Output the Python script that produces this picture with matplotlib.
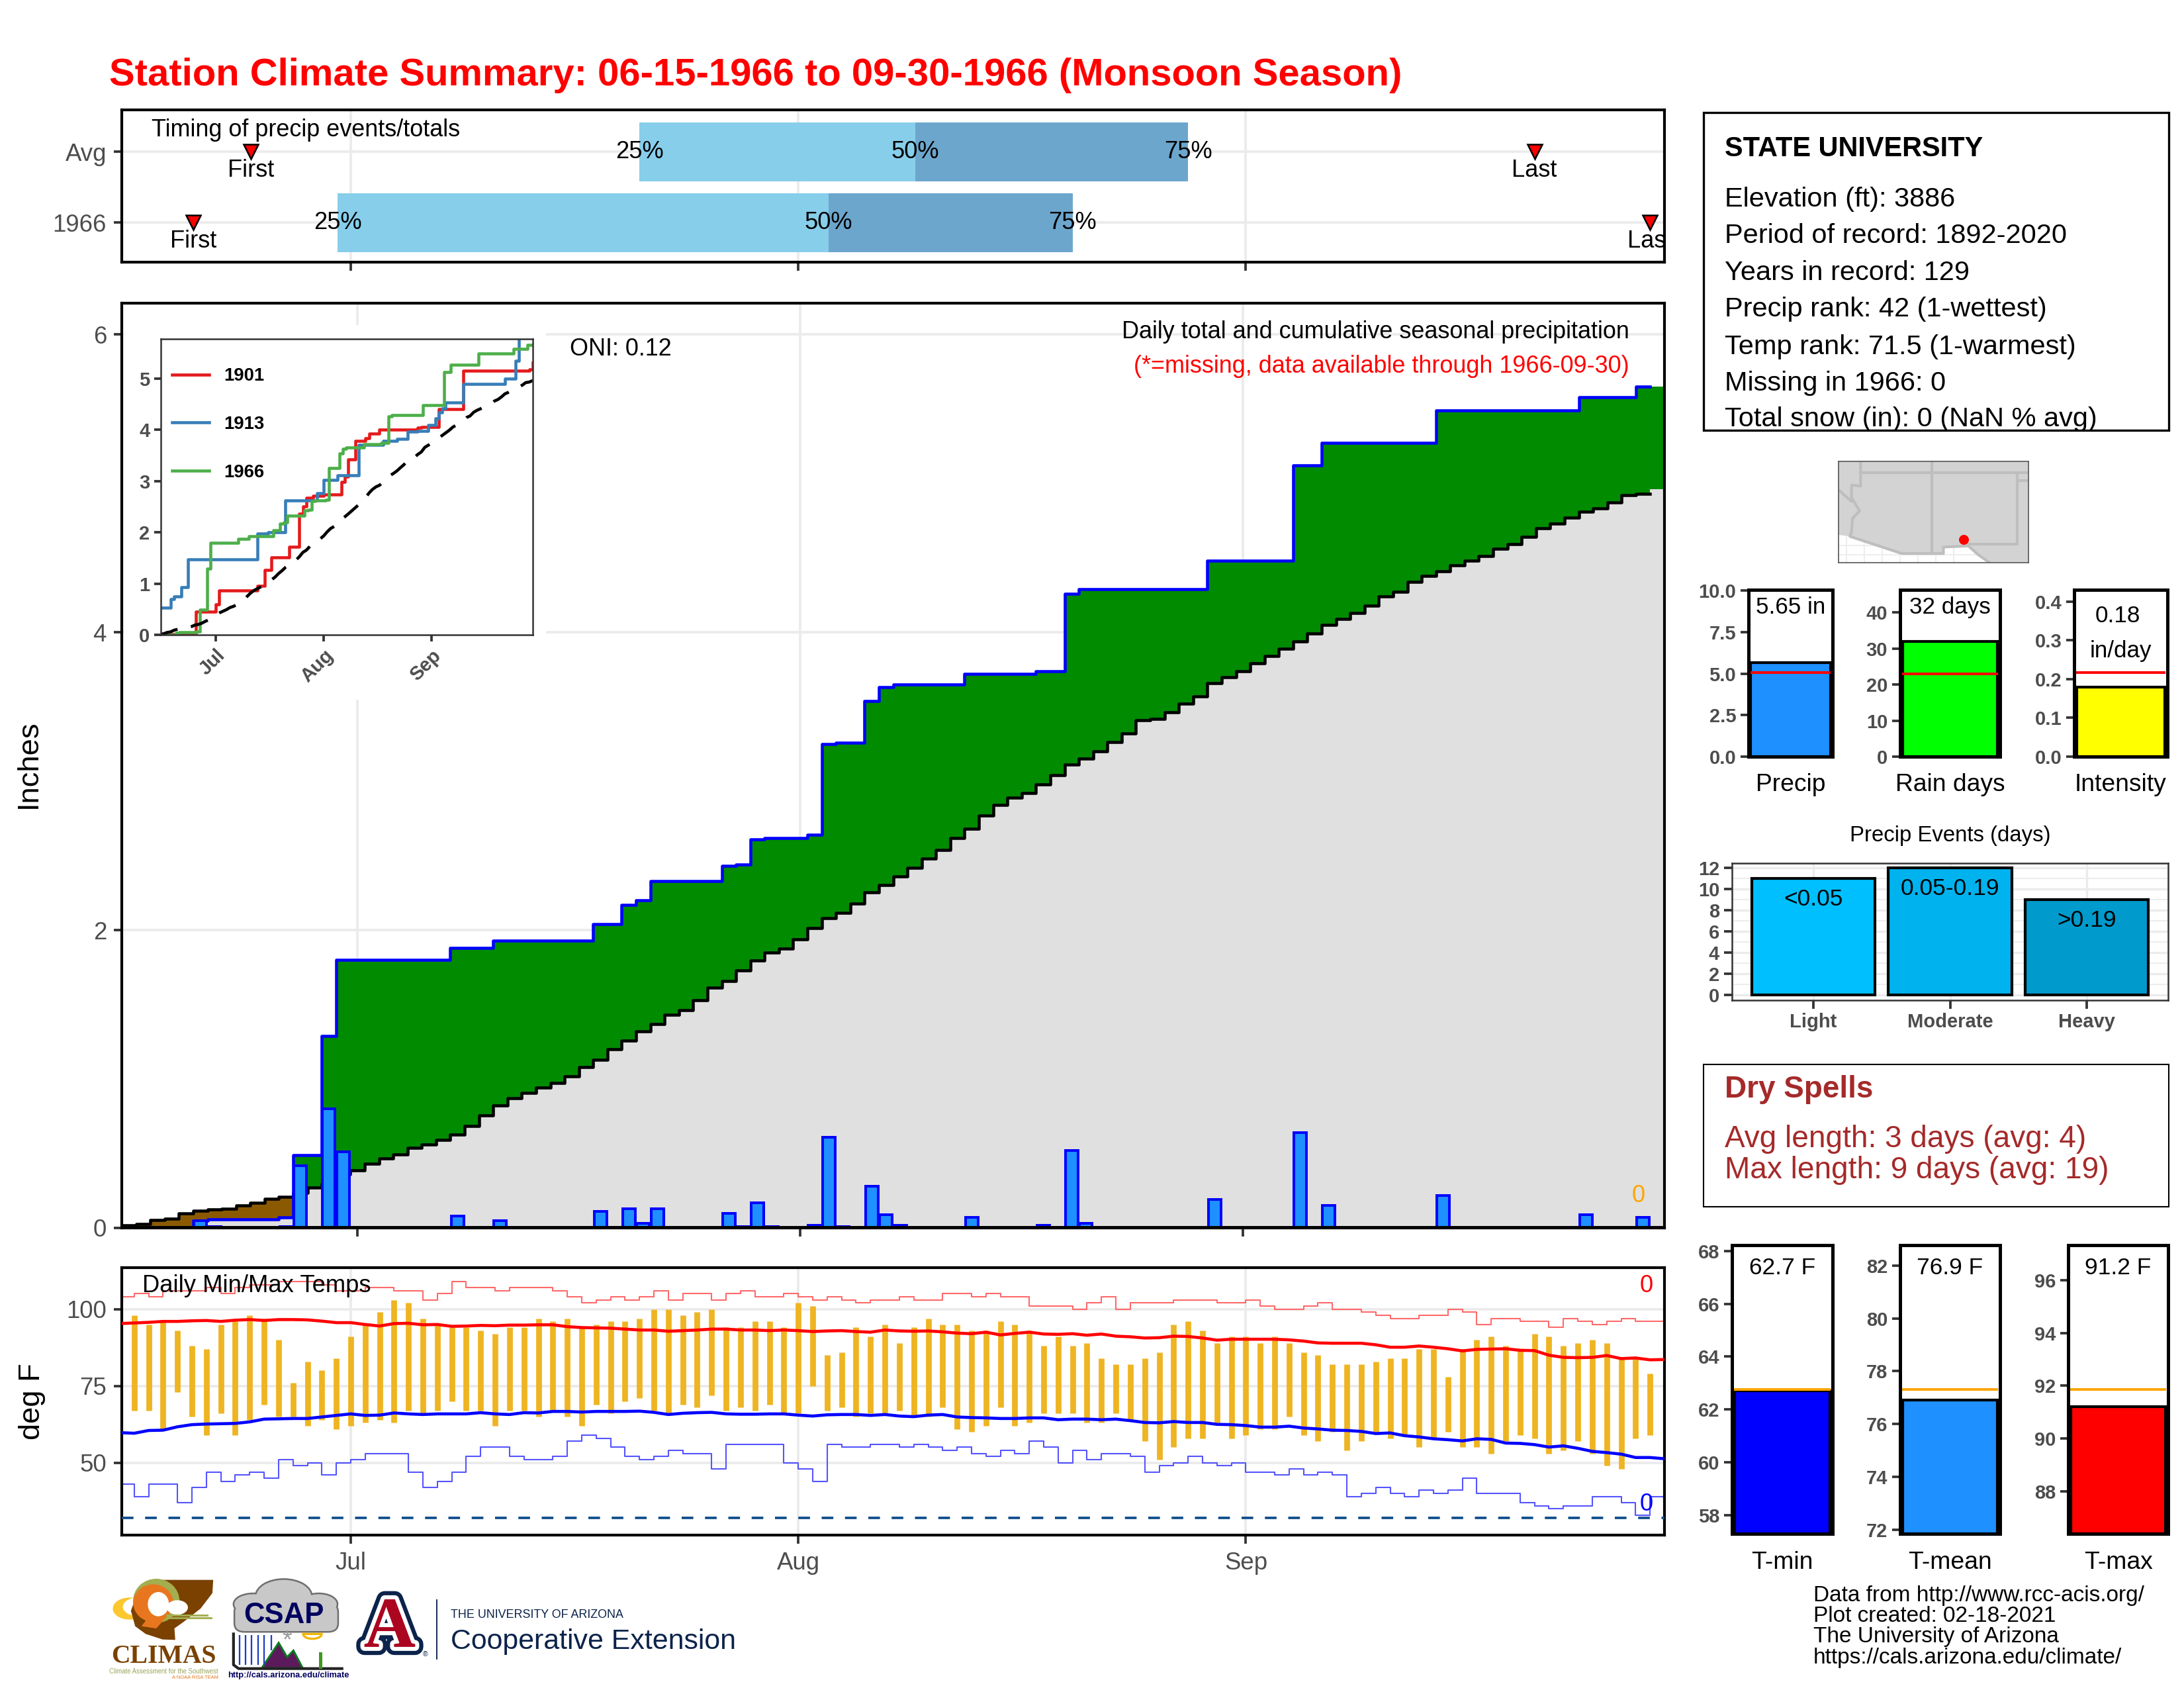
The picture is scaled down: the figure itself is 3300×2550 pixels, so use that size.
#!/usr/bin/env python3
"""Station climate summary page for the 1966 monsoon season."""
import numpy as np
import matplotlib

matplotlib.use("Agg")
import matplotlib.pyplot as plt
import matplotlib.patheffects as pe
from matplotlib.patches import Ellipse, FancyBboxPatch, Polygon, Rectangle, Wedge

plt.rcParams["font.family"] = ["Liberation Sans", "DejaVu Sans"]

W, H = 3300, 2550
GRID = "#EBEBEB"
GRAY = "#4D4D4D"
MONTH_DAYS = [16, 47, 78]
MONTHS = ["Jul", "Aug", "Sep"]
N_DAYS = 108  # Jun 15 (day 0) to Sep 30 (day 107)

# daily precip, days with rain and amounts (in)
RAIN_DAYS = [5, 6, 11, 12, 14, 15, 23, 26, 33, 35, 36, 37, 42, 43, 44, 45, 48, 49, 50, 52,
             53, 54, 59, 64, 66, 67, 76, 82, 84, 92, 102, 106]
RAIN_AMOUNTS = [.05, .01, .01, .42, .80, .51, .08, .05, .11, .13, .03, .13, .10, .01, .17, .01,
                .02, .61, .01, .28, .09, .02, .07, .02, .52, .03, .19, .64, .15, .22, .09, .07]

# average cumulative precip (in), one value per day
AVG_CUM = [.02, .027, .053, .064, .096, .114, .124, .13, .153, .167, .197, .209, .234, .27, .30, .36,
           .385, .433, .465, .495, .536, .56, .59, .625, .686, .756, .822, .873, .907, .944, .973,
           1.02, 1.08, 1.13, 1.20, 1.256, 1.32, 1.367, 1.43, 1.463, 1.53, 1.613, 1.656, 1.729,
           1.797, 1.849, 1.877, 1.936, 2.015, 2.08, 2.118, 2.176, 2.253, 2.304, 2.36, 2.42, 2.48,
           2.54, 2.62, 2.68, 2.77, 2.84, 2.89, 2.92, 2.98, 3.04, 3.11, 3.15, 3.20, 3.262, 3.32,
           3.409, 3.42, 3.462, 3.521, 3.568, 3.658, 3.70, 3.74, 3.79, 3.84, 3.89, 3.94, 3.99, 4.05,
           4.09, 4.13, 4.18, 4.24, 4.27, 4.34, 4.38, 4.41, 4.45, 4.48, 4.51, 4.56, 4.59, 4.64, 4.70,
           4.73, 4.77, 4.81, 4.83, 4.87, 4.92, 4.93, 4.96]

# other years in the inset: day a new total starts, total (in)
Y1901_DAYS = [0, 10.2, 16, 17, 28, 30, 32, 37, 40, 41, 42, 44, 47, 52, 53, 54, 56, 59, 60, 63,
              74, 75, 80, 87, 106, 107]
Y1901_TOTAL = [.02, .46, .60, .87, .96, 1.27, 1.52, 1.72, 2.37, 2.51, 2.68, 2.71, 2.74, 2.98, 3.09,
               3.42, 3.78, 3.83, 3.92, 4.0, 4.04, 4.06, 4.40, 5.15, 5.18, 5.30]
Y1913_DAYS = [0, 3, 4, 6, 8, 28, 31, 36, 45, 47, 51, 57, 64, 68, 71, 74, 77, 79, 80, 81, 82, 87,
              99, 102, 103, 107]
Y1913_TOTAL = [.54, .70, .76, .94, 1.48, 1.98, 2.0, 2.62, 2.76, 3.03, 3.12, 3.71, 3.78, 3.82, 3.97,
               3.98, 4.09, 4.22, 4.34, 4.41, 4.53, 4.89, 4.99, 5.35, 5.80, 5.80]

# daily high and low (F), Jun 16 to Sep 29
T_HIGH = [98, 95, 96, 93, 88, 87, 95, 96, 98, 97, 90, 76, 83, 80, 84, 91, 95, 99, 103, 102,
          97, 95, 94, 94, 93, 92, 94, 94, 97, 96, 97, 94, 95, 96, 96, 97, 100, 100, 98, 99,
          100, 94, 94, 96, 96, 94, 102, 101, 85, 86, 94, 91, 95, 89, 94, 97, 95, 95, 93, 93,
          96, 95, 93, 88, 91, 88, 89, 84, 82, 82, 84, 86, 95, 96, 93, 89, 91, 91, 89, 91,
          89, 86, 85, 82, 82, 82, 83, 84, 84, 87, 87, 78, 87, 90, 91, 88, 87, 92, 91, 88,
          89, 90, 89, 84, 84, 79]
T_LOW = [67, 67, 61, 73, 65, 59, 66, 59, 64, 69, 65, 65, 62, 64, 61, 62, 63, 64, 63, 67,
         66, 67, 70, 67, 67, 62, 67, 67, 65, 67, 65, 62, 69, 66, 70, 71, 67, 66, 69, 68,
         72, 67, 68, 67, 69, 66, 66, 75, 67, 68, 65, 66, 66, 67, 65, 65, 68, 61, 60, 62,
         68, 62, 63, 66, 66, 66, 63, 63, 66, 64, 57, 51, 55, 58, 58, 63, 58, 59, 61, 61,
         65, 59, 57, 60, 54, 57, 60, 58, 59, 55, 58, 60, 55, 55, 53, 57, 59, 58, 53, 54,
         57, 53, 49, 48, 58, 59]

# record high and low by day (F)
REC_HIGH = [104, 105, 104, 106, 106, 106, 107, 105, 107, 108, 108, 109, 109, 109, 108, 106, 106, 107,
            107, 106, 106, 103, 105, 109, 107, 107, 106, 107, 107, 107, 106, 104, 102, 103, 104, 103,
            104, 106, 103, 105, 105, 103, 105, 106, 104, 104, 105, 104, 103, 104, 103, 102, 103, 103,
            104, 103, 103, 105, 105, 104, 105, 104, 104, 101, 101, 101, 100, 102, 104, 100, 102, 102,
            102, 103, 103, 103, 102, 102, 103, 101, 100, 100, 101, 102, 100, 100, 99, 98, 97, 97,
            98, 98, 100, 99, 95, 97, 97, 96, 96, 94, 97, 96, 95, 96, 97, 96, 96, 96]
REC_LOW = [43, 39, 43, 43, 37, 42, 47, 44, 46, 47, 45, 51, 49, 50, 46, 50, 51, 53, 53, 53,
           47, 42, 44, 47, 52, 55, 55, 52, 51, 51, 52, 57, 59, 58, 55, 52, 51, 52, 54, 53,
           53, 48, 56, 56, 56, 56, 50, 48, 44, 56, 55, 55, 56, 56, 55, 56, 55, 54, 55, 53,
           52, 54, 53, 57, 55, 50, 54, 51, 53, 53, 52, 47, 49, 50, 52, 50, 49, 50, 47, 47,
           46, 48, 46, 47, 46, 39, 40, 42, 40, 39, 41, 40, 41, 45, 40, 40, 40, 37, 36, 35,
           36, 36, 39, 39, 37, 33, 39, 39]

# long term mean high and low by day (F)
MEAN_HIGH = [95.3, 95.5, 95.7, 96.0, 96.0, 96.2, 96.3, 96.0, 96.4, 96.6, 96.3, 96.6, 96.6, 96.5, 96.1,
             95.6, 95.6, 95.0, 94.5, 95.3, 95.4, 94.9, 95.0, 94.4, 94.5, 94.7, 94.6, 94.8, 94.8, 94.9,
             94.9, 94.3, 94.0, 93.9, 93.8, 93.5, 93.2, 93.2, 92.8, 93.0, 93.2, 93.5, 93.5, 93.2, 93.2,
             93.0, 93.2, 93.0, 92.7, 92.9, 93.0, 92.7, 92.5, 93.2, 92.9, 92.8, 92.9, 92.6, 92.2, 92.0,
             92.5, 91.6, 92.1, 92.5, 91.9, 91.8, 92.0, 91.5, 91.9, 91.2, 91.0, 90.6, 90.7, 91.2, 91.1,
             90.6, 89.9, 90.2, 90.2, 90.2, 90.2, 90.0, 89.6, 89.0, 88.9, 88.9, 88.9, 88.4, 87.6, 87.6,
             88.0, 87.6, 87.1, 86.4, 86.9, 87.0, 87.1, 86.6, 86.5, 85.0, 84.3, 84.2, 84.3, 84.9, 83.9,
             84.1, 83.5, 83.6]
MEAN_LOW = [59.8, 59.6, 60.5, 60.6, 61.7, 62.4, 62.6, 62.7, 62.8, 63.3, 64.2, 64.3, 64.4, 64.4, 64.9,
            65.4, 65.9, 65.4, 65.5, 66.2, 65.9, 65.7, 65.9, 65.9, 65.9, 66.3, 65.9, 65.7, 66.3, 66.2,
            66.7, 66.7, 66.5, 66.7, 66.7, 66.7, 66.8, 66.4, 65.7, 66.1, 66.3, 66.4, 65.9, 65.8, 65.8,
            65.9, 65.9, 65.5, 65.2, 65.6, 65.7, 65.7, 65.4, 65.7, 65.2, 65.0, 65.5, 65.7, 64.9, 64.7,
            64.6, 64.4, 64.4, 64.6, 64.6, 64.0, 64.2, 64.2, 64.0, 64.2, 63.7, 63.1, 63.0, 63.4, 63.1,
            63.1, 62.5, 62.4, 62.1, 61.6, 61.6, 61.9, 61.3, 61.0, 60.6, 60.5, 60.2, 59.5, 59.7, 58.8,
            58.4, 57.8, 57.5, 57.1, 57.8, 57.6, 56.4, 56.3, 55.9, 55.1, 55.5, 54.7, 53.7, 53.3, 52.8,
            51.7, 51.7, 51.3]

# timing panel: day of first event, 25/50/75% of total, last event
TIMING_LABELS = ["1966", "Avg"]
TIMING_FIRST = [5.1, 9.1]
TIMING_Q25 = [15.1, 36.0]
TIMING_Q50 = [49.1, 55.1]
TIMING_Q75 = [66.0, 74.0]
TIMING_LAST = [106.0, 98.0]

INFO_LINES = ["Elevation (ft): 3886", "Period of record: 1892-2020", "Years in record: 129",
              "Precip rank: 42 (1-wettest)", "Temp rank: 71.5 (1-warmest)", "Missing in 1966: 0",
              "Total snow (in): 0 (NaN % avg)"]

EVENT_LABELS = ["Light", "Moderate", "Heavy"]
EVENT_CLASSES = ["<0.05", "0.05-0.19", ">0.19"]
EVENT_COUNTS = [11, 12, 9]
EVENT_COLORS = ["#00BFFF", "#00B2EE", "#009ACD"]

# outline of the locator map, in pixels of the small map
MAP_LAND = [(505, 65), (1090, 65), (1090, 331), (970, 331), (935, 310), (905, 287), (828, 290),
            (828, 307), (700, 307), (540, 262), (505, 258)]
MAP_AZ = [(573, 65), (573, 130), (545, 127), (545, 160), (570, 195), (548, 215), (545, 250),
          (540, 262), (700, 307), (828, 307), (828, 290), (905, 287), (935, 310), (970, 331)]
MAP_STATION = (891, 271)

fig = plt.figure(figsize=(11, 8.5), dpi=300, facecolor="white")


def px_axes(x0, y0, x1, y1, **kw):
    return fig.add_axes([x0 / W, 1 - y1 / H, (x1 - x0) / W, (y1 - y0) / H], **kw)


def stairs_xy(values, first=0):
    edges = np.arange(first, first + len(values) + 1) - 0.5
    return np.repeat(edges, 2)[1:-1], np.repeat(values, 2)


def style_main(ax, ticksize=8.8):
    for s in ax.spines.values():
        s.set_linewidth(1.0)
    ax.grid(True, color=GRID, lw=0.9)
    ax.set_axisbelow(True)
    ax.tick_params(color="#333333", width=0.9, length=3, labelcolor=GRAY, labelsize=ticksize, pad=2.5)


days = np.arange(N_DAYS)
rain = np.zeros(N_DAYS)
rain[RAIN_DAYS] = RAIN_AMOUNTS
cum = np.cumsum(rain)
avg = np.array(AVG_CUM)

# ---------- timing ----------
ax = px_axes(184, 166, 2515, 396)
style_main(ax)
ax.set_xlim(0.14, 107)
ax.set_ylim(-0.556, 1.593)
ax.set_xticks(MONTH_DAYS)
ax.set_xticklabels([])
ax.set_yticks([0, 1])
ax.set_yticklabels(TIMING_LABELS)
for i in range(2):
    ax.barh(i, TIMING_Q50[i] - TIMING_Q25[i], left=TIMING_Q25[i], height=0.83, color="#87CEEB", zorder=2)
    ax.barh(i, TIMING_Q75[i] - TIMING_Q50[i], left=TIMING_Q50[i], height=0.83, color="#6CA6CD", zorder=2)
    for x, lab in zip((TIMING_Q25[i], TIMING_Q50[i], TIMING_Q75[i]), ("25%", "50%", "75%")):
        ax.text(x, i, lab, ha="center", va="center", fontsize=8.7, zorder=3)
    for x, lab in zip((TIMING_FIRST[i], TIMING_LAST[i]), ("First", "Last")):
        ax.plot(x, i, marker="v", ms=5.5, mfc="red", mec="black", mew=0.6, zorder=3)
        ax.text(x, i - 0.26, lab, ha="center", va="center", fontsize=8.7, zorder=3, clip_on=True)
ax.text(0.0195, 0.868, "Timing of precip events/totals", transform=ax.transAxes, va="center", fontsize=8.65)

# ---------- precip ----------
ax = px_axes(184, 458, 2515, 1855)
style_main(ax)
ax.set_xlim(-0.5, 107.5)
ax.set_ylim(0, 6.21)
ax.set_xticks(MONTH_DAYS)
ax.set_xticklabels([])
ax.set_yticks([0, 2, 4, 6])
ax.set_ylabel("Inches", fontsize=10.9, labelpad=18.5, y=0.502)
sx, scum = stairs_xy(cum)
_, savg = stairs_xy(avg)
ax.fill_between(sx, 0, np.minimum(scum, savg), color="#E0E0E0", lw=0, zorder=1)
ax.fill_between(sx, savg, scum, where=scum >= savg, color="#008B00", lw=0, zorder=1.5)
ax.fill_between(sx, scum, savg, where=scum <= savg, color="#8B5A00", lw=0, zorder=1.5)
ax.plot(*stairs_xy(avg[:107]), color="black", lw=1.1, zorder=3)
ax.plot(*stairs_xy(cum[:107]), color="#0000FF", lw=1.1, zorder=3)
ax.bar(days[rain > 0], rain[rain > 0], width=0.88, color="#1E90FF", edgecolor="#0000FF", lw=0.95, zorder=4)
ax.axhline(0, color="black", lw=1.4, zorder=5)
ax.text(0.9773, 0.969, "Daily total and cumulative seasonal precipitation", transform=ax.transAxes,
        ha="right", va="center", fontsize=8.65, zorder=6)
ax.text(0.9773, 0.9315, "(*=missing, data available through 1966-09-30)", transform=ax.transAxes,
        ha="right", va="center", fontsize=8.65, color="red", zorder=6)
ax.text(0.2903, 0.9505, "ONI: 0.12", transform=ax.transAxes, va="center", fontsize=8.65, zorder=6)
ax.text(105.7, 0.215, "0", color="orange", ha="center", va="center", fontsize=8.7, zorder=6)

fig.patches.append(Rectangle((187 / W, 1 - 1057 / H), (825 - 187) / W, (1057 - 491) / H,
                             transform=fig.transFigure, fc="white", ec="none", zorder=1))

# ---------- inset ----------
ins = px_axes(243, 512, 805, 959.5, zorder=2)
ins.set_xlim(0.2, 107)
ins.set_ylim(0, 5.77)
ins.step(Y1901_DAYS, Y1901_TOTAL, where="post", color="#E41A1C", lw=1.1, label="1901")
ins.step(Y1913_DAYS, Y1913_TOTAL, where="post", color="#377EB8", lw=1.1, label="1913")
ins.plot(*stairs_xy(cum), color="#4DAF4A", lw=1.1, label="1966")
ins.plot(days, avg, color="black", lw=1.1, ls=(0, (6, 4.5)))
for s in ins.spines.values():
    s.set_linewidth(0.6)
    s.set_color("#333333")
ins.set_xticks(MONTH_DAYS)
ins.set_xticklabels(MONTHS, rotation=45, ha="right", rotation_mode="anchor", fontweight="bold")
ins.set_yticks(range(6))
ins.tick_params(color="#333333", width=0.9, length=2.5, labelcolor=GRAY, labelsize=7, pad=1.5)
for lab in ins.get_yticklabels():
    lab.set_fontweight("bold")
ins.legend(loc="upper left", bbox_to_anchor=(0.0, 0.94), frameon=False,
           prop={"weight": "bold", "size": 6.6}, handlelength=2.06, labelspacing=1.7,
           handletextpad=0.8, borderaxespad=0.5, borderpad=0.1)

# ---------- temps ----------
ax = px_axes(184, 1915, 2515, 2319)
style_main(ax)
ax.set_xlim(0.14, 107)
ax.set_ylim(26.45, 113.5)
ax.set_xticks(MONTH_DAYS)
ax.set_xticklabels(MONTHS)
ax.tick_params(axis="x", pad=3)
ax.set_yticks([50, 75, 100])
ax.set_ylabel("deg F", fontsize=10.9, labelpad=7.5)
ax.step(days, REC_HIGH, where="post", color="#FF6A6A", lw=0.5, zorder=2)
ax.step(days, REC_LOW, where="post", color="#5555FF", lw=0.5, zorder=2)
ax.vlines(days[1:107], T_LOW, T_HIGH, color="#EEB422", lw=2.1, zorder=2.5)
ax.plot(days, MEAN_HIGH, color="#FF0000", lw=1.1, zorder=3)
ax.plot(days, MEAN_LOW, color="#0000FF", lw=1.1, zorder=3)
ax.axhline(32, color="#104E8B", lw=0.9, ls=(0, (4.7, 4.7)), zorder=3)
ax.text(0.0135, 0.933, "Daily Min/Max Temps", transform=ax.transAxes, va="center", fontsize=8.73, zorder=4)
ax.text(0.9882, 0.933, "0", transform=ax.transAxes, color="red", ha="center", va="center", fontsize=8.7)
ax.text(0.9882, 0.114, "0", transform=ax.transAxes, color="#0000FF", ha="center", va="center", fontsize=8.7)


# ---------- small gauges ----------
def gauge(box, ylim, ticks, value, ref, fill, refcolor, label, labely, fmt=None):
    a = px_axes(*box)
    a.set_xlim(-0.5, 0.5)
    a.set_ylim(*ylim)
    a.bar(0, value, bottom=ylim[0], width=0.945, color=fill, edgecolor="black", lw=1.0, zorder=2)
    a.plot([-0.48, 0.48], [ref, ref], color=refcolor, lw=0.95, zorder=3, solid_capstyle="butt")
    a.set_xticks([])
    a.set_yticks(ticks)
    if fmt:
        a.set_yticklabels([fmt % t for t in ticks])
    a.tick_params(color="#333333", width=0.9, length=3, labelcolor=GRAY, labelsize=7, pad=1.5)
    for lab in a.get_yticklabels():
        lab.set_fontweight("bold")
    for s in a.spines.values():
        s.set_linewidth(1.2)
    a.text(0.5, labely, label, transform=a.transAxes, ha="center", va="center", fontsize=8.95)
    return a


a = gauge((2642, 891, 2769, 1143), (0, 10.05), [0, 2.5, 5, 7.5, 10], 5.65, 5.05, "#1E90FF", "red", "Precip", -0.167, "%.1f")
a.text(0.5, 0.893, "5.65 in", transform=a.transAxes, ha="center", va="center", fontsize=8.4)
a = gauge((2871, 891, 3022, 1143), (0, 46.3), [0, 10, 20, 30, 40], 32, 23, "#00FF00", "red", "Rain days", -0.167)
a.text(0.5, 0.893, "32 days", transform=a.transAxes, ha="center", va="center", fontsize=8.4)
a = gauge((3134, 891, 3275, 1143), (0, 0.43), [0, .1, .2, .3, .4], 0.18, 0.217, "#FFFF00", "red", "Intensity", -0.167, "%.1f")
a.text(0.47, 0.843, "0.18", transform=a.transAxes, ha="center", va="center", fontsize=8.4)
a.text(0.5, 0.633, "in/day", transform=a.transAxes, ha="center", va="center", fontsize=8.4)

for box, ylim, ticks, val, ref, fill, lab in [
    ((2617, 1881, 2769, 2317), (57.3, 68.22), [58, 60, 62, 64, 66, 68], 62.7, 62.77, "#0000FF", "T-min"),
    ((2871, 1881, 3022, 2317), (71.85, 82.77), [72, 74, 76, 78, 80, 82], 76.9, 77.32, "#1E90FF", "T-mean"),
    ((3125, 1881, 3276, 2317), (86.4, 97.32), [88, 90, 92, 94, 96], 91.2, 91.87, "#FF0000", "T-max"),
]:
    a = gauge(box, ylim, ticks, val - ylim[0], ref, fill, "orange", lab, -0.1)
    a.text(0.5, 0.92, "%.1f F" % val, transform=a.transAxes, ha="center", va="center", fontsize=8.5)

# ---------- precip events ----------
ev = px_axes(2617, 1303.5, 3276, 1511)
ev.set_xlim(-0.594, 2.594)
ev.set_ylim(-0.5, 12.5)
ev.set_xticks(range(3))
ev.set_xticklabels(EVENT_LABELS, fontweight="bold")
ev.set_yticks(range(0, 13, 2))
ev.set_yticks(range(1, 13, 2), minor=True)
ev.grid(True, which="major", color=GRID, lw=0.8)
ev.grid(True, which="minor", axis="y", color=GRID, lw=0.45)
ev.set_axisbelow(True)
ev.tick_params(which="major", color="#333333", width=0.9, length=3, labelcolor=GRAY, labelsize=7, pad=1.5)
ev.tick_params(which="minor", length=0)
for lab in ev.get_yticklabels():
    lab.set_fontweight("bold")
for s in ev.spines.values():
    s.set_linewidth(0.6)
    s.set_color("#333333")
ev.bar(range(3), EVENT_COUNTS, width=0.9, color=EVENT_COLORS, edgecolor="black", lw=1.0, zorder=2)
for i, (cls, n) in enumerate(zip(EVENT_CLASSES, EVENT_COUNTS)):
    ev.text(i, n - 1.93, cls, ha="center", va="center", fontsize=8.5, zorder=3)

# ---------- locator map ----------
mp = px_axes(2778, 697, 3065, 850)
mp.set_xlim(505, 1090)
mp.set_ylim(331, 65)
mp.set_xticks([])
mp.set_yticks([])
for x in (530, 585, 640, 695, 750, 805, 860):
    mp.axvline(x, color="#EEEEEE", lw=0.5, zorder=0)
for y in (285, 310):
    mp.axhline(y, color="#EEEEEE", lw=0.5, zorder=0)
mp.add_patch(Polygon(MAP_LAND, fc="#D3D3D3", ec="none", zorder=1))
mp.plot(*zip(*MAP_AZ), color="#BEBEBE", lw=1.0, zorder=2)
mp.plot([792, 792], [65, 307], color="#BEBEBE", lw=1.0, zorder=2)
mp.plot([573, 1090], [95, 95], color="#BEBEBE", lw=1.0, zorder=2)
mp.plot([1055, 1055, 905], [95, 283, 283], color="#BEBEBE", lw=1.0, zorder=2)
mp.plot([1055, 1090], [115, 115], color="#BEBEBE", lw=1.0, zorder=2)
mp.plot([505, 545], [140, 170], color="#BEBEBE", lw=1.0, zorder=2)
mp.plot(*MAP_STATION, "o", color="red", ms=3.6, mew=0, zorder=3)
for s in mp.spines.values():
    s.set_linewidth(0.4)
    s.set_color("#555555")

# ---------- page level text and boxes ----------
ov = fig.add_axes([0, 0, 1, 1], zorder=5)
ov.set_xlim(0, W)
ov.set_ylim(H, 0)
ov.axis("off")
ov.text(165, 114, "Station Climate Summary: 06-15-1966 to 09-30-1966 (Monsoon Season)", color="red",
        fontweight="bold", fontsize=13.91, va="center")
ov.add_patch(Rectangle((2574, 170), 703, 480, fc="none", ec="black", lw=0.8))
ov.text(2606, 225, "STATE UNIVERSITY", fontweight="bold", fontsize=9.97, va="center")
for y, line in zip((301, 356, 412, 467, 524, 579, 633), INFO_LINES):
    ov.text(2606, y, line, fontsize=9.96, va="center")
ov.text(2947, 1262, "Precip Events (days)", ha="center", va="center", fontsize=7.9)
ov.add_patch(Rectangle((2574, 1608), 703, 215, fc="none", ec="black", lw=0.5))
ov.text(2606, 1646, "Dry Spells", color="#A52A2A", fontweight="bold", fontsize=11, va="center")
ov.text(2606, 1721, "Avg length: 3 days (avg: 4)", color="#A52A2A", fontsize=11.04, va="center")
ov.text(2606, 1768, "Max length: 9 days (avg: 19)", color="#A52A2A", fontsize=11.04, va="center")
for y, line in zip((2410, 2442, 2473, 2505),
                   ("Data from http://www.rcc-acis.org/", "Plot created: 02-18-2021",
                    "The University of Arizona", "https://cals.arizona.edu/climate/")):
    ov.text(2740, y, line, fontsize=8.0, va="center")

# ---------- logos ----------
lg = px_axes(150, 2340, 1150, 2550, zorder=6)
lg.set_xlim(0, 1568)
lg.set_ylim(630, 0)
lg.axis("off")
BROWN = "#7A4100"
NAVY = "#0C234B"
lg.add_patch(Ellipse((72, 270), 80, 100, fc="#FDC82F", ec="none"))
lg.add_patch(Ellipse((92, 262), 72, 84, fc="white", ec="none"))
lg.add_patch(Polygon([(150, 140), (270, 140), (268, 200), (240, 270), (200, 330), (178, 360), (180, 412),
                      (150, 410), (110, 385), (85, 350), (75, 280), (90, 200), (120, 160)], fc=BROWN, ec="none"))
lg.add_patch(Ellipse((135, 235), 110, 200, fc="#A3AE4F", ec="none"))
lg.add_patch(Ellipse((128, 245), 95, 170, fc="#E8761E", ec="none"))
lg.add_patch(Ellipse((140, 250), 50, 110, fc="white", ec="none"))
lg.add_patch(Ellipse((185, 265), 50, 66, fc="white", ec="none"))
lg.add_patch(Polygon([(112, 320), (165, 295), (135, 360), (100, 350)], fc="#E8761E", ec="none"))
lg.plot([160, 255], [300, 300], color="#A3AE4F", lw=0.7)
lg.plot([160, 265], [312, 312], color="#A3AE4F", lw=0.7)
lg.text(152, 487, "CLIMAS", family="Liberation Serif", fontweight="bold", color=BROWN, fontsize=9.5, ha="center", va="center")
lg.text(152, 556, "Climate Assessment for the Southwest", color="#9AA55A", fontsize=2.3, ha="center", va="center")
lg.text(228, 582, "A NOAA RISA TEAM", color="#E8761E", fontsize=1.8, ha="center", va="center")

for lw, ec in ((1.2, "#6E6E6E"), (0, "#C8C8C8")):
    for patch in (FancyBboxPatch((322, 250), 242, 122, boxstyle="round,pad=0,rounding_size=22", mutation_aspect=1.6),
                  Ellipse((365, 250), 90, 90), Ellipse((437, 215), 130, 150), Ellipse((520, 250), 85, 90)):
        patch.set(fc="#C8C8C8", ec=ec, lw=lw)
        lg.add_patch(patch)
lg.text(437, 300, "CSAP", color="#000060", fontweight="bold", fontsize=10.5, ha="center", va="center")
lg.vlines([333, 347, 361, 376, 391], 390, 525, color="#1F3FBF", lw=0.55)
lg.vlines([407], 390, 460, color="#1F3FBF", lw=0.55)
lg.plot([318, 318, 330, 575], [385, 525, 542, 542], color="#222222", lw=1.0)
lg.add_patch(Polygon([(385, 540), (425, 425), (445, 490), (460, 460), (482, 540)], fc="#5C1A5C", ec="#0A7A1E", lw=0.7))
lg.add_patch(Wedge((505, 385), 22, 0, 180, fc="none", ec="#F2B705", lw=0.8))
lg.text(445, 418, "*", color="#999999", fontsize=9, ha="center", va="center")
lg.plot([524, 524], [475, 535], color="#3C9A1E", lw=1.2)
lg.text(448, 572, "http://cals.arizona.edu/climate", color="#000060", fontweight="bold", fontsize=3.1, ha="center", va="center")

lg.text(688, 365, "A", family="Liberation Serif", fontweight="bold", fontsize=26, color="#AB0520", ha="center", va="center",
        path_effects=[pe.withStroke(linewidth=6, foreground=NAVY), pe.withStroke(linewidth=3, foreground="white"), pe.Normal()])
lg.text(772, 478, "®", color=NAVY, fontsize=2.5, ha="center", va="center")
lg.plot([800, 800], [230, 497], color=NAVY, lw=0.45)
lg.text(833, 300, "THE UNIVERSITY OF ARIZONA", color=NAVY, fontsize=4.3, va="center")
lg.text(833, 420, "Cooperative Extension", color=NAVY, fontsize=10.3, va="center")

fig.savefig("out.png", dpi=300)
